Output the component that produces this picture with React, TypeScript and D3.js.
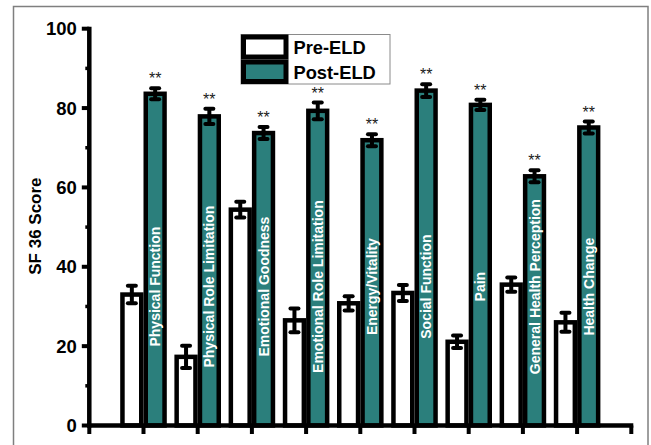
import React from 'react';
import * as d3 from 'd3';

// SF-36 domain scores before and after the ELD programme (mean ± error)
const categories = [
  'Physical Function',
  'Physical Role Limitation',
  'Emotional Goodness',
  'Emotional Role Limitation',
  'Energy/Vitality',
  'Social Function',
  'Pain',
  'General Health Perception',
  'Health Change',
];
const preMeans = [33.0, 17.3, 54.4, 26.5, 30.8, 33.4, 21.1, 35.5, 26.0];
const preErrors = [2.2, 2.8, 2.0, 3.0, 1.8, 2.0, 1.6, 1.8, 2.4];
const postMeans = [83.6, 77.9, 73.7, 79.3, 71.9, 84.4, 80.8, 62.8, 75.1];
const postErrors = [1.4, 1.9, 1.5, 2.1, 1.5, 1.6, 1.3, 1.5, 1.5];
const significance = ['**', '**', '**', '**', '**', '**', '**', '**', '**'];
const seriesNames = ['Pre-ELD', 'Post-ELD'];
const yMajorTicks = [0, 20, 40, 60, 80, 100];
const yMinorTicks = [10, 30, 50, 70, 90];
const yTitle = 'SF 36 Score';

const W = 651;
const H = 445;
const TEAL = '#2b7f7c';
const FONT = "'Liberation Sans', Arial, Helvetica, sans-serif";
const AXIS_W = 4.5;
const BAR_STROKE = 4.5;
const BAR_OUTER = 23.3;

export default function App() {
  const x = d3.scaleLinear().domain([0, categories.length + 1]).range([89.3, 631.3]);
  const y = d3.scaleLinear().domain([0, 100]).range([425.5, 28.7]);
  const xTicks = d3.range(0, categories.length + 2);
  const labelY = y(35);

  const errorBar = (cx: number, m: number, e: number, key: string) => (
    <g key={key} stroke="#000" strokeWidth={4}>
      <line x1={cx} x2={cx} y1={y(m - e)} y2={y(m + e)} />
      <line x1={cx - 4} x2={cx + 4} y1={y(m + e)} y2={y(m + e)} strokeLinecap="round" />
      <line x1={cx - 4} x2={cx + 4} y1={y(m - e)} y2={y(m - e)} strokeLinecap="round" />
    </g>
  );

  return (
    <div style={{ position: 'absolute', left: 0, top: 0, width: W, height: H, overflow: 'hidden' }}>
      <svg width={W} height={H} style={{ display: 'block', background: '#fff' }} fontFamily={FONT}>
        {/* outer frame */}
        <rect x={13.5} y={6.5} width={634.5} height={460} fill="none" stroke="#7f7f7f" strokeWidth={1.5} />

        {/* bars */}
        {categories.map((c, i) => {
          const cx = x(i + 1);
          const preCx = cx - BAR_OUTER / 2;
          const postCx = cx + BAR_OUTER / 2;
          const w = BAR_OUTER - BAR_STROKE;
          return (
            <g key={c}>
              <rect
                x={preCx - w / 2}
                y={y(preMeans[i])}
                width={w}
                height={y(0) - y(preMeans[i])}
                fill="#fff"
                stroke="#000"
                strokeWidth={BAR_STROKE}
              />
              <rect
                x={postCx - w / 2}
                y={y(postMeans[i])}
                width={w}
                height={y(0) - y(postMeans[i])}
                fill={TEAL}
                stroke="#000"
                strokeWidth={BAR_STROKE}
              />
              <text
                transform={`translate(${postCx},${labelY}) rotate(-90)`}
                textAnchor="middle"
                dy="0.36em"
                fill="#fff"
                fontWeight="bold"
                fontSize={14}
              >
                {c}
              </text>
              {errorBar(preCx, preMeans[i], preErrors[i], 'pe')}
              {errorBar(postCx, postMeans[i], postErrors[i], 'po')}
              <text
                x={postCx}
                y={y(postMeans[i] + postErrors[i]) - 4}
                textAnchor="middle"
                fontSize={16}
                fill="#1a1a1a"
              >
                {significance[i]}
              </text>
            </g>
          );
        })}

        {/* y axis */}
        <g stroke="#000">
          <line x1={x(0)} x2={x(0)} y1={y(100) - 2} y2={y(0) + 2} strokeWidth={AXIS_W} />
          {yMajorTicks.map((t) => (
            <line key={t} x1={x(0) - 7.5} x2={x(0)} y1={y(t)} y2={y(t)} strokeWidth={4} />
          ))}
          {yMinorTicks.map((t) => (
            <line key={t} x1={x(0) - 4} x2={x(0)} y1={y(t)} y2={y(t)} strokeWidth={3.5} />
          ))}
        </g>
        {yMajorTicks.map((t) => (
          <text
            key={t}
            x={x(0) - 12.5}
            y={y(t)}
            dy="0.36em"
            textAnchor="end"
            fontWeight="bold"
            fontSize={18.5}
            fill="#000"
          >
            {t}
          </text>
        ))}
        <text
          transform={`translate(35,${y(50) - 1}) rotate(-90)`}
          textAnchor="middle"
          dy="0.36em"
          fontWeight="bold"
          fontSize={17}
          fill="#000"
        >
          {yTitle}
        </text>

        {/* x axis */}
        <g stroke="#000">
          <line x1={x(0) - 2} x2={x(categories.length + 1) + 2} y1={y(0)} y2={y(0)} strokeWidth={AXIS_W} />
          {xTicks.map((t) => (
            <line key={t} x1={x(t)} x2={x(t)} y1={y(0)} y2={y(0) + 8.5} strokeWidth={4} />
          ))}
        </g>

        {/* legend */}
        <g>
          <rect x={241} y={34.5} width={149} height={49.5} fill="#fff" stroke="#8a8a8a" strokeWidth={1} />
          <rect x={243.5} y={37} width={42.5} height={20} fill="#fff" stroke="#000" strokeWidth={5} />
          <rect x={243.5} y={62} width={42.5} height={19.5} fill={TEAL} stroke="#000" strokeWidth={5} />
          <text x={293.5} y={54} fontWeight="bold" fontSize={18.3} fill="#000">
            {seriesNames[0]}
          </text>
          <text x={293.5} y={79.3} fontWeight="bold" fontSize={18.3} fill="#000">
            {seriesNames[1]}
          </text>
        </g>
      </svg>
    </div>
  );
}
